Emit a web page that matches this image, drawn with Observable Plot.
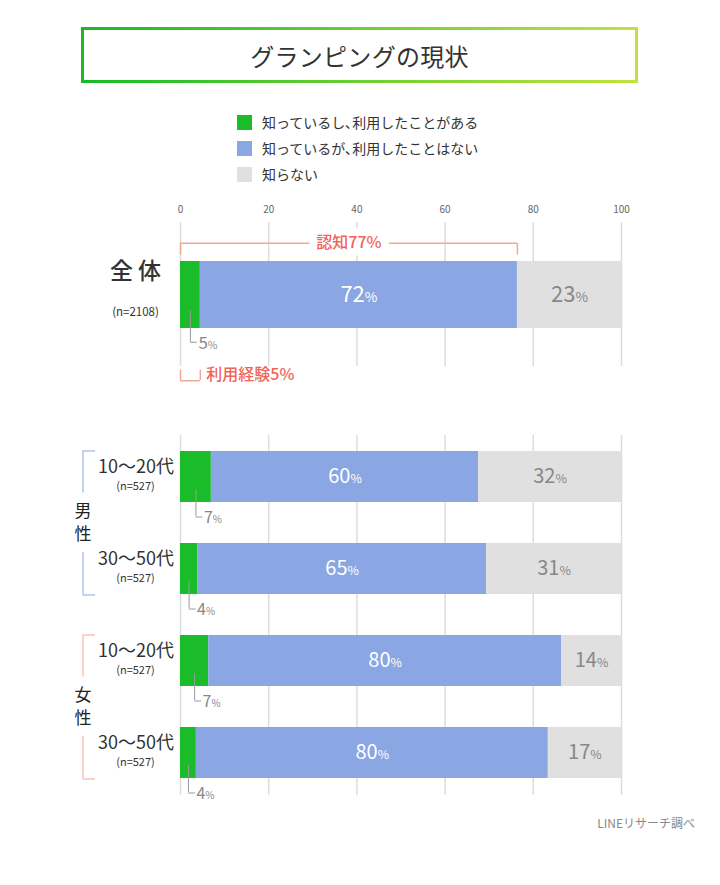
<!DOCTYPE html>
<html><head><meta charset="utf-8">
<script src="https://cdn.jsdelivr.net/npm/d3@7"></script>
<script src="https://cdn.jsdelivr.net/npm/@observablehq/plot@0.6"></script>
<style>
body{margin:0;background:#fff;}
#page{position:relative;width:720px;height:885px;font-family:"Noto Sans CJK JP","Noto Sans",sans-serif;color:#333;background:#fff;}
#title{position:absolute;left:81px;top:27px;width:557px;height:56px;box-sizing:border-box;border:3px solid transparent;border-image:linear-gradient(90deg,#17bb25,#c0e23f) 1;display:flex;align-items:center;justify-content:center;font-size:24px;color:#333;letter-spacing:0.3px}
#legend{position:absolute;left:237px;top:109px;font-size:14px;color:#333}
.item{display:flex;align-items:center;height:26px}
.sw{width:15px;height:15px;margin-right:10px;flex:none}
#top{position:absolute;left:0;top:195px}
#bottom{position:absolute;left:0;top:430px}
#caption{position:absolute;right:25px;top:814px;font-size:12px;color:#888}
svg text{font-family:"Noto Sans CJK JP","Noto Sans",sans-serif;}
</style></head>
<body>
<div id="page">
  <div id="title">グランピングの現状</div>
  <div id="legend"></div>
  <div id="top"></div>
  <div id="bottom"></div>
  <div id="caption">LINEリサーチ調べ</div>
</div>
<script>
// ---- data ----
const categories = ["知っているし､利用したことがある", "知っているが､利用したことはない", "知らない"];
const categoryColors = ["#1bbc29", "#8aa6e3", "#e0e0e0"];
const xTicks = [0, 20, 40, 60, 80, 100];

const rowKeys = ["全体", "男性10〜20代", "男性30〜50代", "女性10〜20代", "女性30〜50代"];
const genders = ["", "男性", "男性", "女性", "女性"];
const ageLabels = ["全 体", "10〜20代", "30〜50代", "10〜20代", "30〜50代"];
const sampleLabels = ["(n=2108)", "(n=527)", "(n=527)", "(n=527)", "(n=527)"];
const usedValues = [4.5, 7.0, 3.9, 6.4, 3.6];
const knownValues = [71.9, 60.6, 65.5, 80.0, 79.8];
const unknownValues = [23.6, 32.4, 30.6, 13.6, 16.6];
const usedLabels = [5, 7, 4, 7, 4];
const knownLabels = [72, 60, 65, 80, 80];
const unknownLabels = [23, 32, 31, 14, 17];
const genderGroups = ["男性", "女性"];
const genderColors = ["#b1c2ef", "#f8c3b5"];

// ---- tables ----
const rows = rowKeys.map((key, i) => ({
  key, gender: genders[i], age: ageLabels[i], n: sampleLabels[i],
  used: usedValues[i], known: knownValues[i], unknown: unknownValues[i],
  usedLabel: usedLabels[i], knownLabel: knownLabels[i], unknownLabel: unknownLabels[i]
}));
const long = rows.flatMap(r => categories.map((c, j) => ({key: r.key, cat: c, value: [r.used, r.known, r.unknown][j]})));

// legend
const legend = document.getElementById("legend");
categories.forEach((c, i) => {
  const it = document.createElement("div"); it.className = "item";
  const sw = document.createElement("div"); sw.className = "sw"; sw.style.background = categoryColors[i];
  const tx = document.createElement("span"); tx.textContent = c;
  it.appendChild(sw); it.appendChild(tx); legend.appendChild(it);
});

const font = '"Noto Sans CJK JP","Noto Sans",sans-serif';
const leadColor = "#9a9a9a";

function commonMarks(data, longData, bw, o) {
  return [
    Plot.gridX(xTicks, {stroke: "#dddddd", strokeOpacity: 1, strokeWidth: 1.5}),
    Plot.barX(longData, {x: "value", y: "key", fill: "cat"}),
    Plot.text(data, {x: d => d.used + d.known / 2, y: "key", text: d => d.knownLabel + "%", fill: "white", fontSize: o.pctSize}),
    Plot.text(data, {x: d => d.used + d.known + d.unknown / 2, y: "key", text: d => d.unknownLabel + "%", fill: "#888888", fontSize: o.pctSize}),
    // leader for the small green value
    Plot.tickX(data, {x: d => d.used / 2, y: "key", insetTop: bw / 2 + o.leadStart, insetBottom: -o.leadEnd, stroke: leadColor, strokeWidth: 1}),
    Plot.ruleY(data, {y: "key", x1: d => d.used / 2, x2: d => d.used / 2, dy: bw / 2 + o.leadEnd, insetRight: -7, stroke: leadColor, strokeWidth: 1}),
    Plot.text(data, {x: d => d.used / 2, y: "key", text: d => d.usedLabel + "%", dx: 8, dy: bw / 2 + o.leadEnd + 1, textAnchor: "start", fill: "#888888", fontSize: o.smallSize})
  ];
}

function shrinkPct(svg) {
  d3.select(svg).selectAll("text").each(function() {
    const t = this.textContent;
    if (/^\d+%$/.test(t)) {
      this.textContent = t.slice(0, -1);
      d3.select(this).append("tspan").attr("font-size", "0.62em").text("%");
    }
  });
}

// ---- top panel ----
const topRows = rows.slice(0, 1);
const topLong = long.filter(d => d.key === rowKeys[0]);
const topFrame = 144, topPad = 0.567;
const bwTop = topFrame / (1 + 2 * topPad);
const red = "#f0645a", redLine = "#f6a59b";
const topPlot = Plot.plot({
  width: 720, height: 200, marginLeft: 180, marginRight: 99, marginTop: 27, marginBottom: 29,
  style: {fontFamily: font, background: "transparent", overflow: "visible"},
  x: {domain: [0, 100], axis: null},
  y: {domain: [rowKeys[0]], paddingInner: 0, paddingOuter: topPad, axis: null},
  color: {domain: categories, range: categoryColors},
  marks: [
    Plot.axisX(xTicks, {anchor: "top", tickSize: 0, tickPadding: 10, fontSize: 10, color: "#666666", label: null}),
    ...commonMarks(topRows, topLong, bwTop, {pctSize: 22, smallSize: 17, leadStart: 16, leadEnd: 13.5}),
    // 認知 bracket
    Plot.ruleY(topRows, {y: "key", x1: () => 0, x2: d => d.used + d.known, dy: -(bwTop / 2 + 18), stroke: redLine, strokeWidth: 1.5}),
    Plot.tickX(topRows, {x: () => 0, y: "key", insetTop: -18, insetBottom: bwTop + 6, stroke: redLine, strokeWidth: 1.5}),
    Plot.tickX(topRows, {x: d => d.used + d.known, y: "key", insetTop: -18, insetBottom: bwTop + 6, stroke: redLine, strokeWidth: 1.5}),
    Plot.text(topRows, {x: d => (d.used + d.known) / 2, y: "key", dy: -(bwTop / 2 + 18), text: d => "認知" + (d.usedLabel + d.knownLabel) + "%", fill: red, stroke: "white", strokeWidth: 16, paintOrder: "stroke", fontSize: 16, fontWeight: 500}),
    // 利用経験 bracket
    Plot.tickX(topRows, {x: () => 0, y: "key", insetTop: bwTop + 41, insetBottom: -52, stroke: redLine, strokeWidth: 1.5}),
    Plot.tickX(topRows, {x: d => d.used, y: "key", insetTop: bwTop + 41, insetBottom: -52, stroke: redLine, strokeWidth: 1.5}),
    Plot.ruleY(topRows, {y: "key", x1: () => 0, x2: d => d.used, dy: bwTop / 2 + 52, stroke: redLine, strokeWidth: 1.5}),
    Plot.text(topRows, {x: d => d.used, y: "key", dx: 6, dy: bwTop / 2 + 46, textAnchor: "start", text: d => "利用経験" + d.usedLabel + "%", fill: red, fontSize: 16, fontWeight: 500}),
    // row labels
    Plot.text(topRows, {y: "key", text: "age", frameAnchor: "left", textAnchor: "middle", dx: -45, dy: -23, fontSize: 23, fontWeight: 500, fill: "#333333"}),
    Plot.text(topRows, {y: "key", text: "n", frameAnchor: "left", textAnchor: "middle", dx: -45, dy: 17, fontSize: 11.5, fill: "#333333"})
  ]
});
shrinkPct(topPlot);
document.getElementById("top").appendChild(topPlot);

// ---- bottom panel ----
const botRows = rows.slice(1);
const botLong = long.filter(d => d.key !== rowKeys[0]);
const botFrame = 360, pIn = 0.441, pOut = 0.156;
const step = botFrame / (4 - pIn + 2 * pOut);
const bwBot = step * (1 - pIn);
const genderMarks = genderGroups.flatMap((g, gi) => {
  const keys = botRows.filter(r => r.gender === g).map(r => r.key);
  const c = genderColors[gi];
  const first = [keys[0]], last = [keys[keys.length - 1]];
  return [
    Plot.tickX(first, {x: () => 0, y: d => d, dx: -97.5, insetBottom: 9.5, stroke: c, strokeWidth: 1.5}),
    Plot.tickX(last, {x: () => 0, y: d => d, dx: -97.5, insetTop: 9, stroke: c, strokeWidth: 1.5}),
    Plot.ruleY(first, {y: d => d, x1: () => 0, x2: () => 0, dx: -97.5, dy: -bwBot / 2, insetRight: -12.5, stroke: c, strokeWidth: 1.5}),
    Plot.ruleY(last, {y: d => d, x1: () => 0, x2: () => 0, dx: -97.5, dy: bwBot / 2, insetRight: -12.5, stroke: c, strokeWidth: 1.5}),
    Plot.text(first, {y: d => d, text: () => g.split("").join("\n"), frameAnchor: "left", textAnchor: "middle", dx: -97.5, dy: step / 2 - 2, lineHeight: 1.35, fontSize: 17, fill: "#222222"})
  ];
});
const botPlot = Plot.plot({
  width: 720, height: 375, marginLeft: 180, marginRight: 99, marginTop: 5, marginBottom: 10,
  style: {fontFamily: font, background: "transparent", overflow: "visible"},
  x: {domain: [0, 100], axis: null},
  y: {domain: rowKeys.slice(1), paddingInner: pIn, paddingOuter: pOut, axis: null},
  color: {domain: categories, range: categoryColors},
  marks: [
    ...commonMarks(botRows, botLong, bwBot, {pctSize: 20, smallSize: 16, leadStart: 12, leadEnd: 14}),
    Plot.text(botRows, {y: "key", text: "age", frameAnchor: "left", textAnchor: "middle", dx: -44.5, dy: -10, fontSize: 18, fill: "#333333"}),
    Plot.text(botRows, {y: "key", text: "n", frameAnchor: "left", textAnchor: "middle", dx: -45, dy: 9, fontSize: 11, fill: "#333333"}),
    ...genderMarks
  ]
});
shrinkPct(botPlot);
document.getElementById("bottom").appendChild(botPlot);
</script>
</body></html>
